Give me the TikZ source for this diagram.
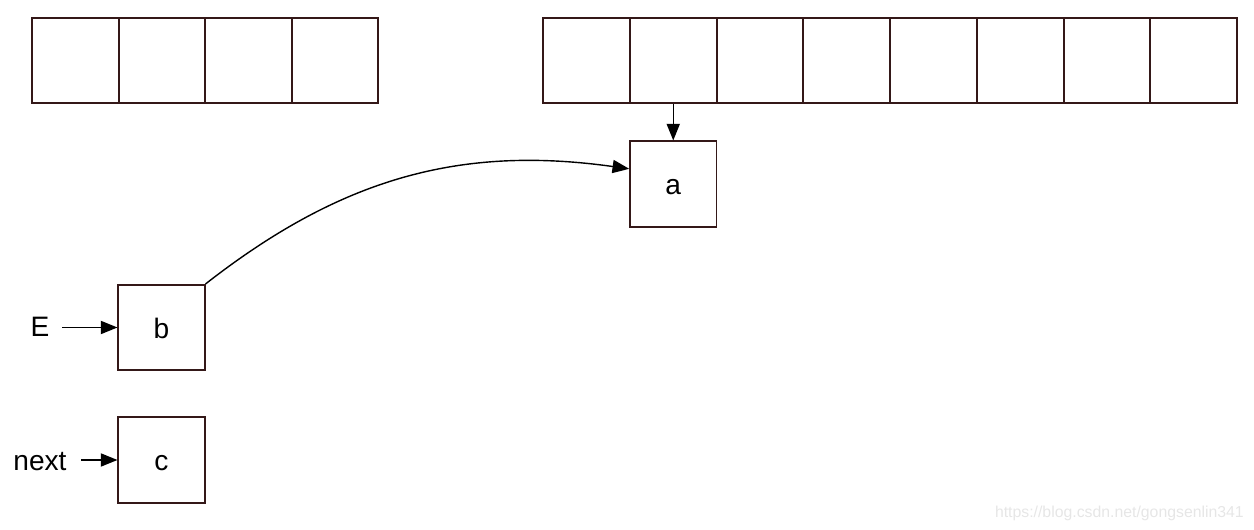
\documentclass[tikz,border=0pt]{standalone}
\usepackage{fontspec}
\setmainfont{Liberation Sans}
\usetikzlibrary{arrows.meta}
\definecolor{cellline}{HTML}{341818}
\definecolor{markgray}{HTML}{E6E6E6}
\tikzset{
	cell/.style={draw=cellline, line width=0.9pt, minimum width=1.73cm, minimum height=1.71cm, inner sep=0pt, text height=12.5pt, text depth=0pt, font=\fontsize{16}{19}\selectfont},
	ptr/.style={-{Triangle[length=9.5pt,width=7.5pt]}, line width=0.8pt, black},
	lbl/.style={inner sep=1pt, font=\fontsize{16}{19}\selectfont}
}

\begin{document}
\begin{tikzpicture}[x=0.02cm, y=0.02cm]
	\useasboundingbox (0,0) rectangle (1254,530);

	% small table
	\foreach \i in {0,1,2,3}{
			\node[cell] (s\i) at (75.5+\i*86.5,469.5) {};
		}

	% big table
	\foreach \i in {0,...,7}{
			\node[cell] (t\i) at (586.5+\i*86.75,469.5) {};
		}

	\node[cell] (a) at (673.25,346) {a};
	\node[cell] (b) at (161.5,202.5) {b};
	\node[cell] (c) at (161.5,70) {c};

	\node[lbl] (E) at (40,203) {E};
	\node[lbl] (next) at (40,68) {next};
	\coordinate (Etail) at (62,202.5);
	\coordinate (nexttail) at (81,70);

	\draw[ptr] (t1.south) -- (a.north);
	\draw[ptr] (b.north east) to[out=38, in=172] (a.161);
	\draw[ptr] (Etail) -- (b.west);
	\draw[ptr] (nexttail) -- (c.west);

	\node[anchor=east, text=markgray, font=\fontsize{9}{11}\selectfont] (mark) at (1250,17) {https://blog.csdn.net/gongsenlin341};
\end{tikzpicture}
\end{document}
